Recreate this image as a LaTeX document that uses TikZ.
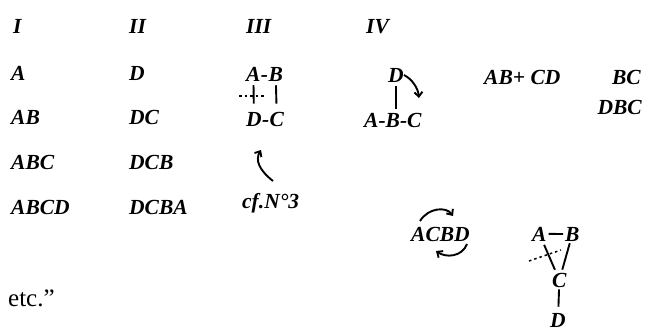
\documentclass[tikz,border=0pt]{standalone}
\usepackage{fontspec}
\setmainfont{Liberation Serif}
\usetikzlibrary{arrows.meta}
\begin{document}
\begin{tikzpicture}[x=1pt,y=-1pt,
  t/.style={font=\fontsize{21.5}{24}\selectfont\bfseries\itshape, inner sep=0pt, anchor=base west},
  tr/.style={t, anchor=base east},
  ln/.style={line width=1.9pt},
  dsh/.style={line width=1.5pt, dash pattern=on 2.5pt off 3pt},
  arr/.style={line width=1.9pt, -{Straight Barb[length=4.5pt,width=8pt]}}]
\useasboundingbox (0,0) rectangle (646,332);
% headings
\node[t] (h1) at (13,33) {I};
\node[t] (h2) at (129,33) {II};
\node[t] (h3) at (246,33) {III};
\node[t] (h4) at (366,33) {IV};
% column I
\node[t] (i1) at (11,80) {A};
\node[t] (i2) at (11,124) {AB};
\node[t] (i3) at (11,169) {ABC};
\node[t] (i4) at (11,214) {ABCD};
% column II
\node[t] (j1) at (129,80) {D};
\node[t] (j2) at (129,124) {DC};
\node[t] (j3) at (129,169) {DCB};
\node[t] (j4) at (129,214) {DCBA};
% column III
\node[t] (a3) at (246,81) {A};
\node[t] (m3) at (a3.base east) {-};
\node[t] (b3) at (m3.base east) {B};
\node[t] (d3) at (246,126) {D};
\node[t] (n3) at (d3.base east) {-};
\node[t] (c3) at (n3.base east) {C};
\draw[ln, shorten <=4pt, shorten >=8pt] (a3) -- (d3);
\draw[ln, shorten <=4pt, shorten >=8pt] (b3) -- (c3);
\coordinate (q1) at (239,96);
\coordinate (q2) at (266,96);
\draw[dsh] (q1) -- (q2);
\node[t] (cf) at (242,208) {cf.N°3};
\coordinate (r0) at (273,181);
\draw[arr] (r0) .. controls (259,170) and (255,160) .. (261,150);
% column IV
\node[t] (d4) at (388,82) {D};
\node[t] (abc4) at (364,127) {A-B-C};
\draw[ln, shorten <=4pt, shorten >=4pt] (d4) -- (d4 |- abc4.north);
\draw[arr] (d4.east) .. controls (412,79) and (418,88) .. (419,98);
\node[t] (abcd4) at (484,84) {AB+ CD};
\node[tr] (bc) at (641,84) {BC};
\node[tr] (dbc) at (642,114) {DBC};
% ACBD with arrows
\node[t] (acbd) at (411,241) {ACBD};
\draw[arr] (420,221) .. controls (428,208) and (446,206) .. (453,216);
\draw[arr] (467,244) .. controls (462,257) and (446,258) .. (436,251);
% triangle
\node[t] (a5) at (532,241) {A};
\node[t] (b5) at (565,241) {B};
\node[t] (c5) at (552,287) {C};
\node[t] (d5) at (550,327) {D};
\draw[ln, shorten <=2pt, shorten >=2pt] (a5) -- (b5);
\draw[ln, shorten <=4pt, shorten >=3pt] (a5) -- (c5);
\draw[ln, shorten <=2pt, shorten >=3pt] (b5) -- (c5);
\draw[ln, shorten <=2pt, shorten >=6pt] (c5) -- (d5);
\coordinate (s1) at (529,261);
\coordinate (s2) at (561,250);
\draw[dsh] (s1) -- (s2);
% etc.
\node[font=\fontsize{25}{28}\selectfont, inner sep=0pt, anchor=base west] (etc) at (8,306) {etc.”};
\end{tikzpicture}
\end{document}
